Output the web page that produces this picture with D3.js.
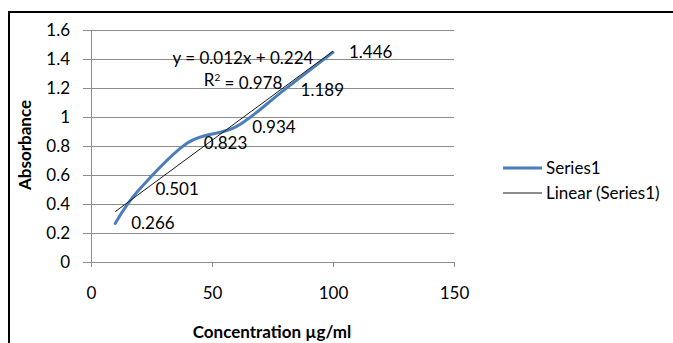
<!DOCTYPE html>
<html>
<head>
<meta charset="utf-8">
<script src="https://cdn.jsdelivr.net/npm/d3@7"></script>
<style>
  html, body { margin: 0; padding: 0; background: #fff; }
  svg { display: block; }
  text { font-family: Lato, "Open Sans", sans-serif; fill: #000; }
</style>
</head>
<body>
<svg id="chart" width="673" height="343"></svg>
<script>
// Calibration data: concentration (µg/ml) vs absorbance
const concentration = [10, 20, 40, 60, 80, 100];
const absorbance = [0.266, 0.501, 0.823, 0.934, 1.189, 1.446];
const xTicks = [0, 50, 100, 150];
const yTicks = [0, 0.2, 0.4, 0.6, 0.8, 1, 1.2, 1.4, 1.6];
const legendLabels = ["Series1", "Linear (Series1)"];
// Coefficient of determination as reported for the trendline
const rSquared = 0.978;

const FONT = "17px";
const svg = d3.select("#chart");

// Outer frame (top and left edges)
svg.append("path")
  .attr("d", "M9,343 V12 H673")
  .attr("fill", "none")
  .attr("stroke", "#000")
  .attr("stroke-width", 2);

const x = d3.scaleLinear().domain([0, 150]).range([91, 454]);
const y = d3.scaleLinear().domain([0, 1.6]).range([262, 30]);

// Horizontal gridlines
svg.append("g")
  .selectAll("line")
  .data(yTicks.filter(d => d > 0))
  .join("line")
  .attr("x1", x(0)).attr("x2", x(150))
  .attr("y1", d => y(d)).attr("y2", d => y(d))
  .attr("stroke", "#8c8c8c").attr("stroke-width", 1)
  .attr("shape-rendering", "crispEdges");

// Y axis
const yAxis = svg.append("g")
  .attr("transform", `translate(${x(0)},0)`)
  .call(d3.axisLeft(y).tickValues(yTicks).tickSize(8).tickPadding(13)
    .tickFormat(d => String(+d.toFixed(1))));
// X axis
const xAxis = svg.append("g")
  .attr("transform", `translate(0,${y(0)})`)
  .call(d3.axisBottom(x).tickValues(xTicks).tickSize(5).tickPadding(20));

[yAxis, xAxis].forEach(a => {
  a.select(".domain").attr("stroke", "#8c8c8c").attr("shape-rendering", "crispEdges");
  a.selectAll(".tick line").attr("stroke", "#8c8c8c").attr("shape-rendering", "crispEdges");
  a.selectAll(".tick text").style("font-size", FONT).attr("fill", "#000")
    .style("font-family", "Lato, sans-serif");
});
yAxis.select(".domain").attr("d", `M0,${y(0)}V${y(1.6)}`);
xAxis.select(".domain").attr("d", `M${x(0)},0H${x(150)}V5`);
xAxis.selectAll(".tick text").attr("y", 31).attr("dy", "0.35em");

// Least-squares trendline fitted to the data
const mx = d3.mean(concentration), my = d3.mean(absorbance);
const sxy = d3.sum(concentration, (c, i) => (c - mx) * (absorbance[i] - my));
const sxx = d3.sum(concentration, c => (c - mx) ** 2);
const slope = sxy / sxx;
const intercept = my - slope * mx;
const xMin = d3.min(concentration), xMax = d3.max(concentration);

// Smoothed data series
const line = d3.line()
  .x((d, i) => x(concentration[i]))
  .y(d => y(d))
  .curve(d3.curveCardinal.tension(0));
svg.append("path")
  .datum(absorbance)
  .attr("d", line)
  .attr("fill", "none")
  .attr("stroke", "#4a7ebb")
  .attr("stroke-width", 3)
  .attr("stroke-linecap", "round");

svg.append("line")
  .attr("x1", x(xMin)).attr("y1", y(slope * xMin + intercept))
  .attr("x2", x(xMax)).attr("y2", y(slope * xMax + intercept))
  .attr("stroke", "#1a1a1a").attr("stroke-width", 1);

// Data labels
svg.append("g")
  .selectAll("text")
  .data(absorbance)
  .join("text")
  .attr("x", (d, i) => x(concentration[i]) + 16)
  .attr("y", d => y(d))
  .attr("dy", "0.35em")
  .style("font-size", FONT)
  .text(d => d3.format(".3f")(d));

// Trendline equation
svg.append("text")
  .attr("x", 243).attr("y", 58).attr("dy", "0.35em")
  .attr("text-anchor", "middle")
  .style("font-size", FONT)
  .text(`y = ${slope.toFixed(3)}x + ${intercept.toFixed(3)}`);
const r2Text = svg.append("text")
  .attr("x", 243).attr("y", 80).attr("dy", "0.35em")
  .attr("text-anchor", "middle")
  .style("font-size", FONT);
r2Text.append("tspan").text("R");
r2Text.append("tspan").attr("dy", "-0.45em").style("font-size", "10px").text("2");
r2Text.append("tspan").attr("dy", "0.45em").text(` = ${rSquared.toFixed(3)}`);

// Axis titles
svg.append("text")
  .attr("transform", "translate(25,145) rotate(-90)")
  .attr("text-anchor", "middle")
  .attr("dy", "0.35em")
  .style("font-size", FONT).style("font-weight", "bold")
  .text("Absorbance");
svg.append("text")
  .attr("x", 272).attr("y", 332).attr("dy", "0.35em")
  .attr("text-anchor", "middle")
  .style("font-size", FONT).style("font-weight", "bold")
  .text("Concentration µg/ml");

// Legend
const legend = svg.append("g");
const legendStyles = [
  { stroke: "#4a7ebb", width: 3 },
  { stroke: "#1a1a1a", width: 1 }
];
legendLabels.forEach((lab, i) => {
  const ly = 168 + i * 25;
  legend.append("line")
    .attr("x1", 503).attr("x2", 542).attr("y1", ly).attr("y2", ly)
    .attr("stroke", legendStyles[i].stroke)
    .attr("stroke-width", legendStyles[i].width);
  legend.append("text")
    .attr("x", 546).attr("y", ly).attr("dy", "0.35em")
    .style("font-size", FONT)
    .text(lab);
});
</script>
</body>
</html>
